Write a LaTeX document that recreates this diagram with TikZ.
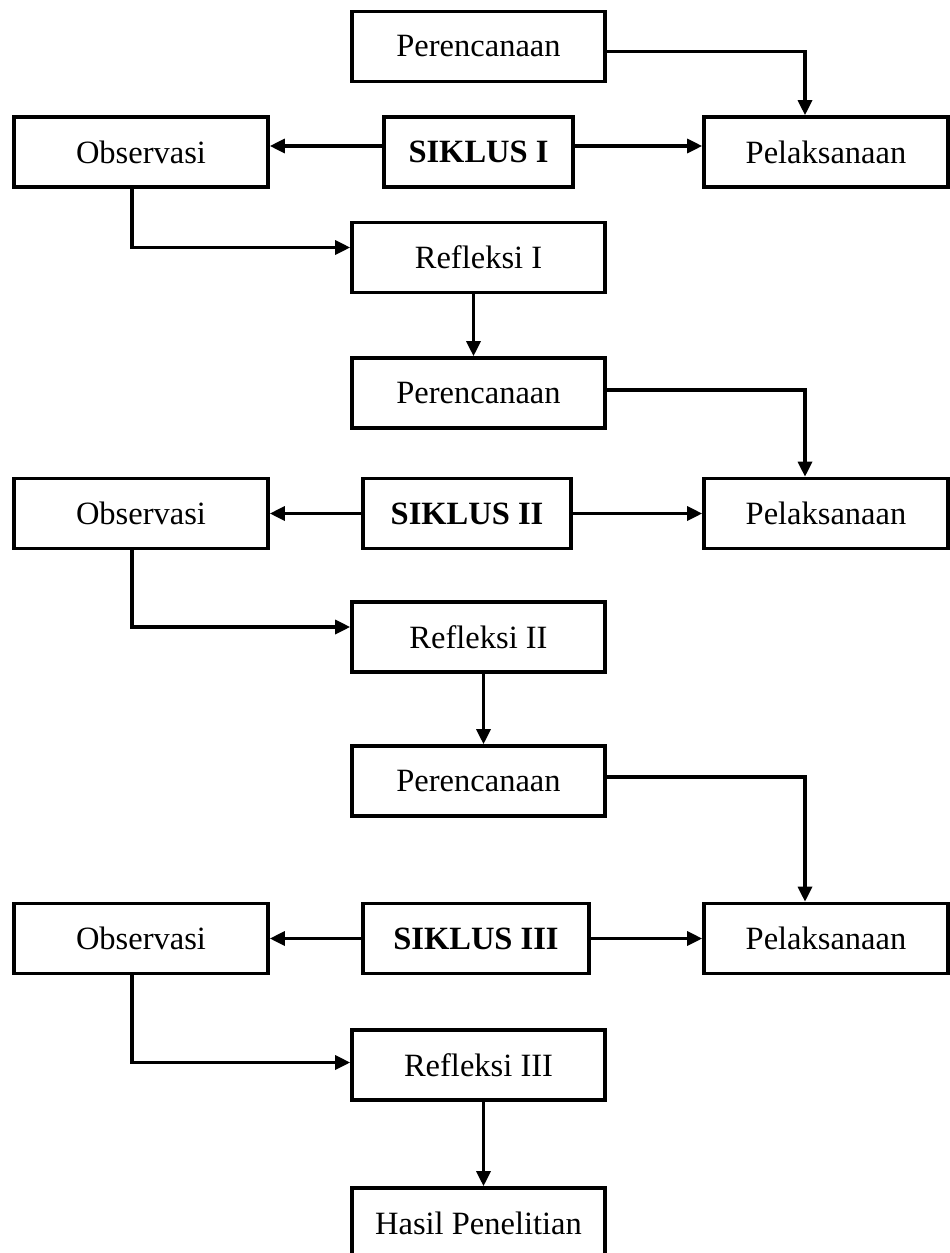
\documentclass[tikz,border=0pt]{standalone}
\usepackage{fontspec}
\setmainfont{Liberation Serif}
\usetikzlibrary{arrows.meta}

\begin{document}
\begin{tikzpicture}[x=0.4pt,y=-0.4pt]
\tikzstyle{every node}=[font=\fontsize{13}{15}\selectfont]
\tikzstyle{kotak}=[draw,line width=1.45pt,minimum height=28pt,inner sep=0pt]
\tikzstyle{tengah}=[kotak,minimum width=101.2pt]
\tikzstyle{obs}=[kotak,minimum width=101.6pt]
\tikzstyle{pel}=[kotak,minimum width=97.6pt]
\tikzstyle{siklus}=[kotak,font=\fontsize{13}{15}\selectfont\bfseries]
\tikzstyle{panah}=[line width=1.3pt,-{Triangle[length=6pt,width=5.6pt]}]
\useasboundingbox (0,0) rectangle (949,1253);
\node[tengah] (per1) at (478.5,46.5) {Perencanaan};
\node[obs] (obs1) at (141,152) {Observasi};
\node[siklus,minimum width=75.6pt] (sik1) at (478.5,152) {SIKLUS I};
\node[pel] (pel1) at (826,152) {Pelaksanaan};
\node[tengah] (ref1) at (478.5,257.5) {Refleksi I};
\node[tengah] (per2) at (478.5,393) {Perencanaan};
\node[obs] (obs2) at (141,513.5) {Observasi};
\node[siklus,minimum width=83.2pt] (sik2) at (467,513.5) {SIKLUS II};
\node[pel] (pel2) at (826,513.5) {Pelaksanaan};
\node[tengah] (ref2) at (478.5,637) {Refleksi II};
\node[tengah] (per3) at (478.5,781) {Perencanaan};
\node[obs] (obs3) at (141,938.5) {Observasi};
\node[siklus,minimum width=90.4pt] (sik3) at (476,938.5) {SIKLUS III};
\node[pel] (pel3) at (826,938.5) {Pelaksanaan};
\node[tengah] (ref3) at (478.5,1065) {Refleksi III};
\node[tengah] (hasil) at (478.5,1223) {Hasil Penelitian};
\draw[panah] ([yshift=-2pt]per1.east) -| ([xshift=-8.4pt]pel1.north);
\draw[panah] ([yshift=2.4pt]sik1.west) -- ([yshift=2.4pt]obs1.east);
\draw[panah] ([yshift=2.4pt]sik1.east) -- ([yshift=2.4pt]pel1.west);
\draw[panah] ([xshift=-3.6pt]obs1.south) |- ([yshift=4pt]ref1.west);
\draw[panah] ([xshift=-2pt]ref1.south) -- ([xshift=-2pt]per2.north);
\draw[panah] ([yshift=1.2pt]per2.east) -| ([xshift=-8.4pt]pel2.north);
\draw[panah] (sik2.west) -- (obs2.east);
\draw[panah] (sik2.east) -- (pel2.west);
\draw[panah] ([xshift=-3.6pt]obs2.south) |- ([yshift=4pt]ref2.west);
\draw[panah] ([xshift=2pt]ref2.south) -- ([xshift=2pt]per3.north);
\draw[panah] ([yshift=1.6pt]per3.east) -| ([xshift=-8.4pt]pel3.north);
\draw[panah] (sik3.west) -- (obs3.east);
\draw[panah] (sik3.east) -- (pel3.west);
\draw[panah] ([xshift=-3.6pt]obs3.south) |- ([yshift=1pt]ref3.west);
\draw[panah] ([xshift=2pt]ref3.south) -- ([xshift=2pt]hasil.north);
\end{tikzpicture}
\end{document}
